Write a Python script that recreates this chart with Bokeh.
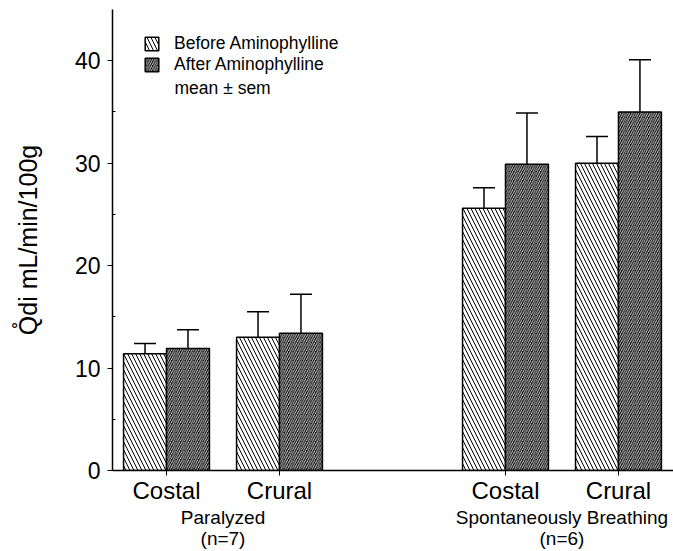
from bokeh.plotting import figure
from bokeh.models import (Range1d, FixedTicker, Whisker, TeeHead, ColumnDataSource,
                          Legend, LegendItem, Label, LinearAxis)
from bokeh.transform import dodge
from bokeh.embed import file_html
from bokeh.resources import INLINE

# ---- data ----
muscles = ["Costal", "Crural", "Costal", "Crural"]
positions = [1, 2, 4, 5]
before_mean = [11.4, 13.0, 25.6, 30.0]
before_sem = [1.0, 2.5, 2.0, 2.6]
after_mean = [11.9, 13.4, 29.9, 35.0]
after_sem = [1.85, 3.8, 5.0, 5.1]
groups = ["Paralyzed", "Spontaneously Breathing"]
group_n = ["(n=7)", "(n=6)"]
y_ticks = [0, 10, 20, 30, 40]
y_minor = [5, 15, 25, 35]

FONT = "Liberation Sans"
OFF = 0.19
BW = 0.38

src = ColumnDataSource(dict(
    x=positions,
    b=before_mean, bu=[m + s for m, s in zip(before_mean, before_sem)],
    a=after_mean, au=[m + s for m, s in zip(after_mean, after_sem)],
))

p = figure(width=673, height=551, output_backend="svg", toolbar_location=None,
           x_range=Range1d(0.522, 5.487), y_range=Range1d(0, 45),
           min_border_left=112, min_border_right=0, min_border_top=9,
           min_border_bottom=81)
p.outline_line_color = None
p.xgrid.visible = False
p.ygrid.visible = False

rb = p.vbar(x=dodge("x", -OFF, range=p.x_range), top="b", width=BW, source=src,
            fill_color="white", line_color="black", line_width=1.5,
            hatch_pattern="\\", hatch_color="black", hatch_scale=8, hatch_weight=1.0)
ra = p.vbar(x=dodge("x", OFF, range=p.x_range), top="a", width=BW, source=src,
            fill_color="#111111", line_color="black", line_width=1.5,
            hatch_pattern="/", hatch_color="white", hatch_scale=4.5, hatch_weight=0.8)

for col_base, col_up, off in (("b", "bu", -OFF), ("a", "au", OFF)):
    w = Whisker(base=dodge("x", off, range=p.x_range), lower=col_base, upper=col_up,
                source=src, line_color="black", line_width=1.5,
                upper_head=TeeHead(size=22, line_width=1.5, line_color="black"),
                lower_head=None)
    p.add_layout(w)

# axes
p.yaxis.ticker = FixedTicker(ticks=y_ticks, minor_ticks=y_minor)
p.yaxis.axis_label = "Q\u030adi mL/min/100g"
p.yaxis.axis_label_text_font = FONT
p.yaxis.axis_label_text_font_size = "25px"
p.yaxis.axis_label_text_font_style = "normal"
p.yaxis.axis_label_text_color = "black"
p.yaxis.axis_label_standoff = 30
p.yaxis.major_label_text_font = FONT
p.yaxis.major_label_text_font_size = "23px"
p.yaxis.major_label_standoff = 7
p.yaxis.major_tick_out = 5
p.yaxis.major_tick_in = 0
p.yaxis.minor_tick_in = 3
p.yaxis.minor_tick_out = 0

p.xaxis.ticker = FixedTicker(ticks=positions)
p.xaxis.major_label_overrides = {pos: m for pos, m in zip(positions, muscles)}
p.xaxis.major_label_text_font = FONT
p.xaxis.major_label_text_font_size = "24px"
p.xaxis.major_label_standoff = 1
p.xaxis.major_tick_out = 5
p.xaxis.major_tick_in = 0
p.xaxis.minor_tick_out = 0
p.xaxis.minor_tick_in = 0

for ax in (p.xaxis, p.yaxis):
    ax.axis_line_width = 1.5
    ax.axis_line_color = "black"
    ax.major_tick_line_color = "black"
    ax.major_label_text_color = "black"

# group labels as a second (line-less) axis below
group_centers = [(positions[0] + positions[1]) / 2, (positions[2] + positions[3]) / 2]
gaxis = LinearAxis(ticker=FixedTicker(ticks=group_centers),
                   major_label_overrides={c: f"{g}\n{n}" for c, g, n in zip(group_centers, groups, group_n)},
                   axis_line_color=None, major_tick_line_color=None, minor_tick_line_color=None,
                   major_tick_out=0, major_tick_in=0, minor_tick_out=0, minor_tick_in=0,
                   major_label_text_font=FONT, major_label_text_font_size="19px",
                   major_label_text_color="black", major_label_standoff=0,
                   major_label_text_line_height=1.0)
p.add_layout(gaxis, "below")

# legend
legend = Legend(items=[LegendItem(label="Before Aminophylline", renderers=[rb]),
                       LegendItem(label="After Aminophylline", renderers=[ra])],
                location=(31, 395), padding=0, margin=0, spacing=0,
                glyph_width=17, glyph_height=17, label_height=13, label_standoff=14,
                border_line_alpha=0, background_fill_alpha=0,
                label_text_font=FONT, label_text_font_size="17.5px", label_text_color="black")
p.add_layout(legend)
p.add_layout(Label(x=1.071, y=37.3, text="mean \u00b1 sem", text_baseline="middle",
                   text_font=FONT, text_font_size="17.5px", text_color="black"))

open("out.html", "w").write(file_html(p, INLINE))
